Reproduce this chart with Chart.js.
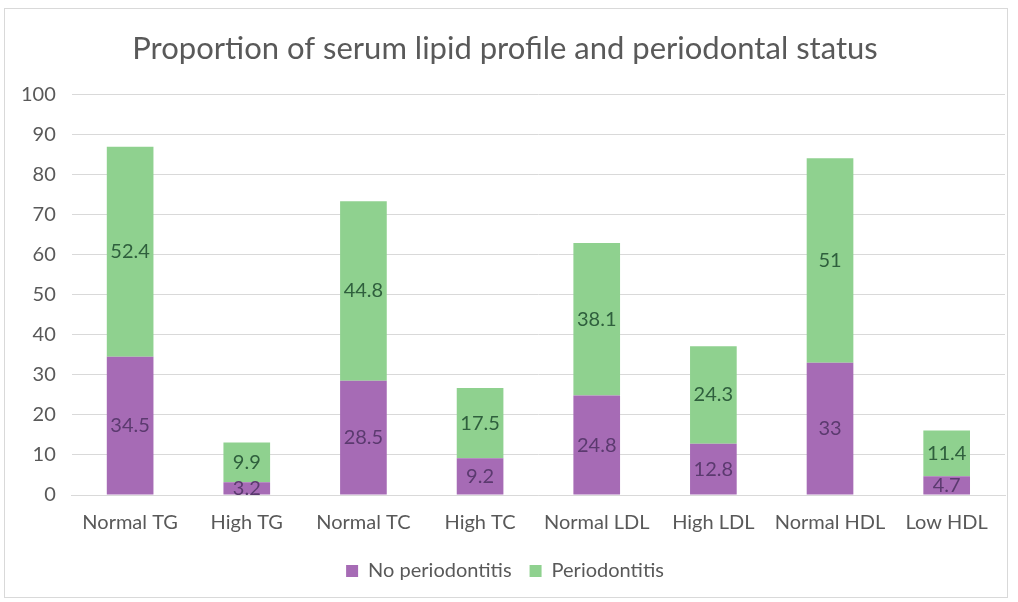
<!DOCTYPE html>
<html>
<head>
<meta charset="utf-8">
<script src="https://cdn.jsdelivr.net/npm/chart.js@4"></script>
<style>
  body { margin: 0; background: #fff; }
  .box {
    position: absolute; left: 4px; top: 8px;
    width: 1004px; height: 590px;
    border: 1px solid #d9d9d9; box-sizing: border-box;
  }
</style>
</head>
<body>
<div class="box"><canvas id="myChart"></canvas></div>
<script>
// data
const labels = ["Normal TG", "High TG", "Normal TC", "High TC", "Normal LDL", "High LDL", "Normal HDL", "Low HDL"];
const noPerio = [34.5, 3.2, 28.5, 9.2, 24.8, 12.8, 33, 4.7];
const perio = [52.4, 9.9, 44.8, 17.5, 38.1, 24.3, 51, 11.4];

// write the value in the middle of each bar segment
const valueLabels = {
  id: "valueLabels",
  afterDatasetsDraw(chart) {
    const ctx = chart.ctx;
    ctx.save();
    ctx.font = "20px Lato";
    ctx.textAlign = "center";
    ctx.textBaseline = "middle";
    chart.data.datasets.forEach((ds, i) => {
      const meta = chart.getDatasetMeta(i);
      ctx.fillStyle = ds.labelColor;
      meta.data.forEach((bar, j) => {
        const mid = (bar.y + bar.base) / 2;
        ctx.fillText(ds.data[j], bar.x, mid);
      });
    });
    ctx.restore();
  },
};

const ctx = document.getElementById("myChart");
new Chart(ctx, {
  type: "bar",
  data: {
    labels: labels,
    datasets: [
      {
        label: "No periodontitis",
        data: noPerio,
        backgroundColor: "#a66bb5",
        labelColor: "#5b3a6f",
      },
      {
        label: "Periodontitis",
        data: perio,
        backgroundColor: "#8fd18f",
        labelColor: "#2f5f3d",
      },
    ],
  },
  plugins: [valueLabels],
  options: {
    responsive: true,
    maintainAspectRatio: false,
    animation: false,
    barPercentage: 0.4,
    categoryPercentage: 1,
    layout: { autoPadding: false, padding: { left: 0, right: 2, top: 13, bottom: 6 } },
    plugins: {
      title: {
        display: true,
        text: "Proportion of serum lipid profile and periodontal status",
        color: "#595959",
        font: { family: "Lato", size: 31, weight: "normal" },
        padding: { top: 8, bottom: 27 },
      },
      legend: {
        position: "bottom",
        labels: {
          color: "#595959",
          font: { family: "Lato", size: 20 },
          boxWidth: 12,
          boxHeight: 12,
          padding: 18,
        },
      },
      tooltip: { enabled: false },
    },
    scales: {
      x: {
        stacked: true,
        grid: { display: false },
        border: { color: "#d9d9d9" },
        ticks: {
          color: "#595959",
          font: { family: "Lato", size: 20 },
          padding: 8,
          maxRotation: 0,
          autoSkip: false,
        },
      },
      y: {
        stacked: true,
        min: 0,
        max: 100,
        ticks: { stepSize: 10, color: "#595959", font: { family: "Lato", size: 20 }, padding: 16 },
        grid: { color: "#d9d9d9", drawTicks: false },
        border: { display: false },
      },
    },
  },
});
</script>
</body>
</html>
